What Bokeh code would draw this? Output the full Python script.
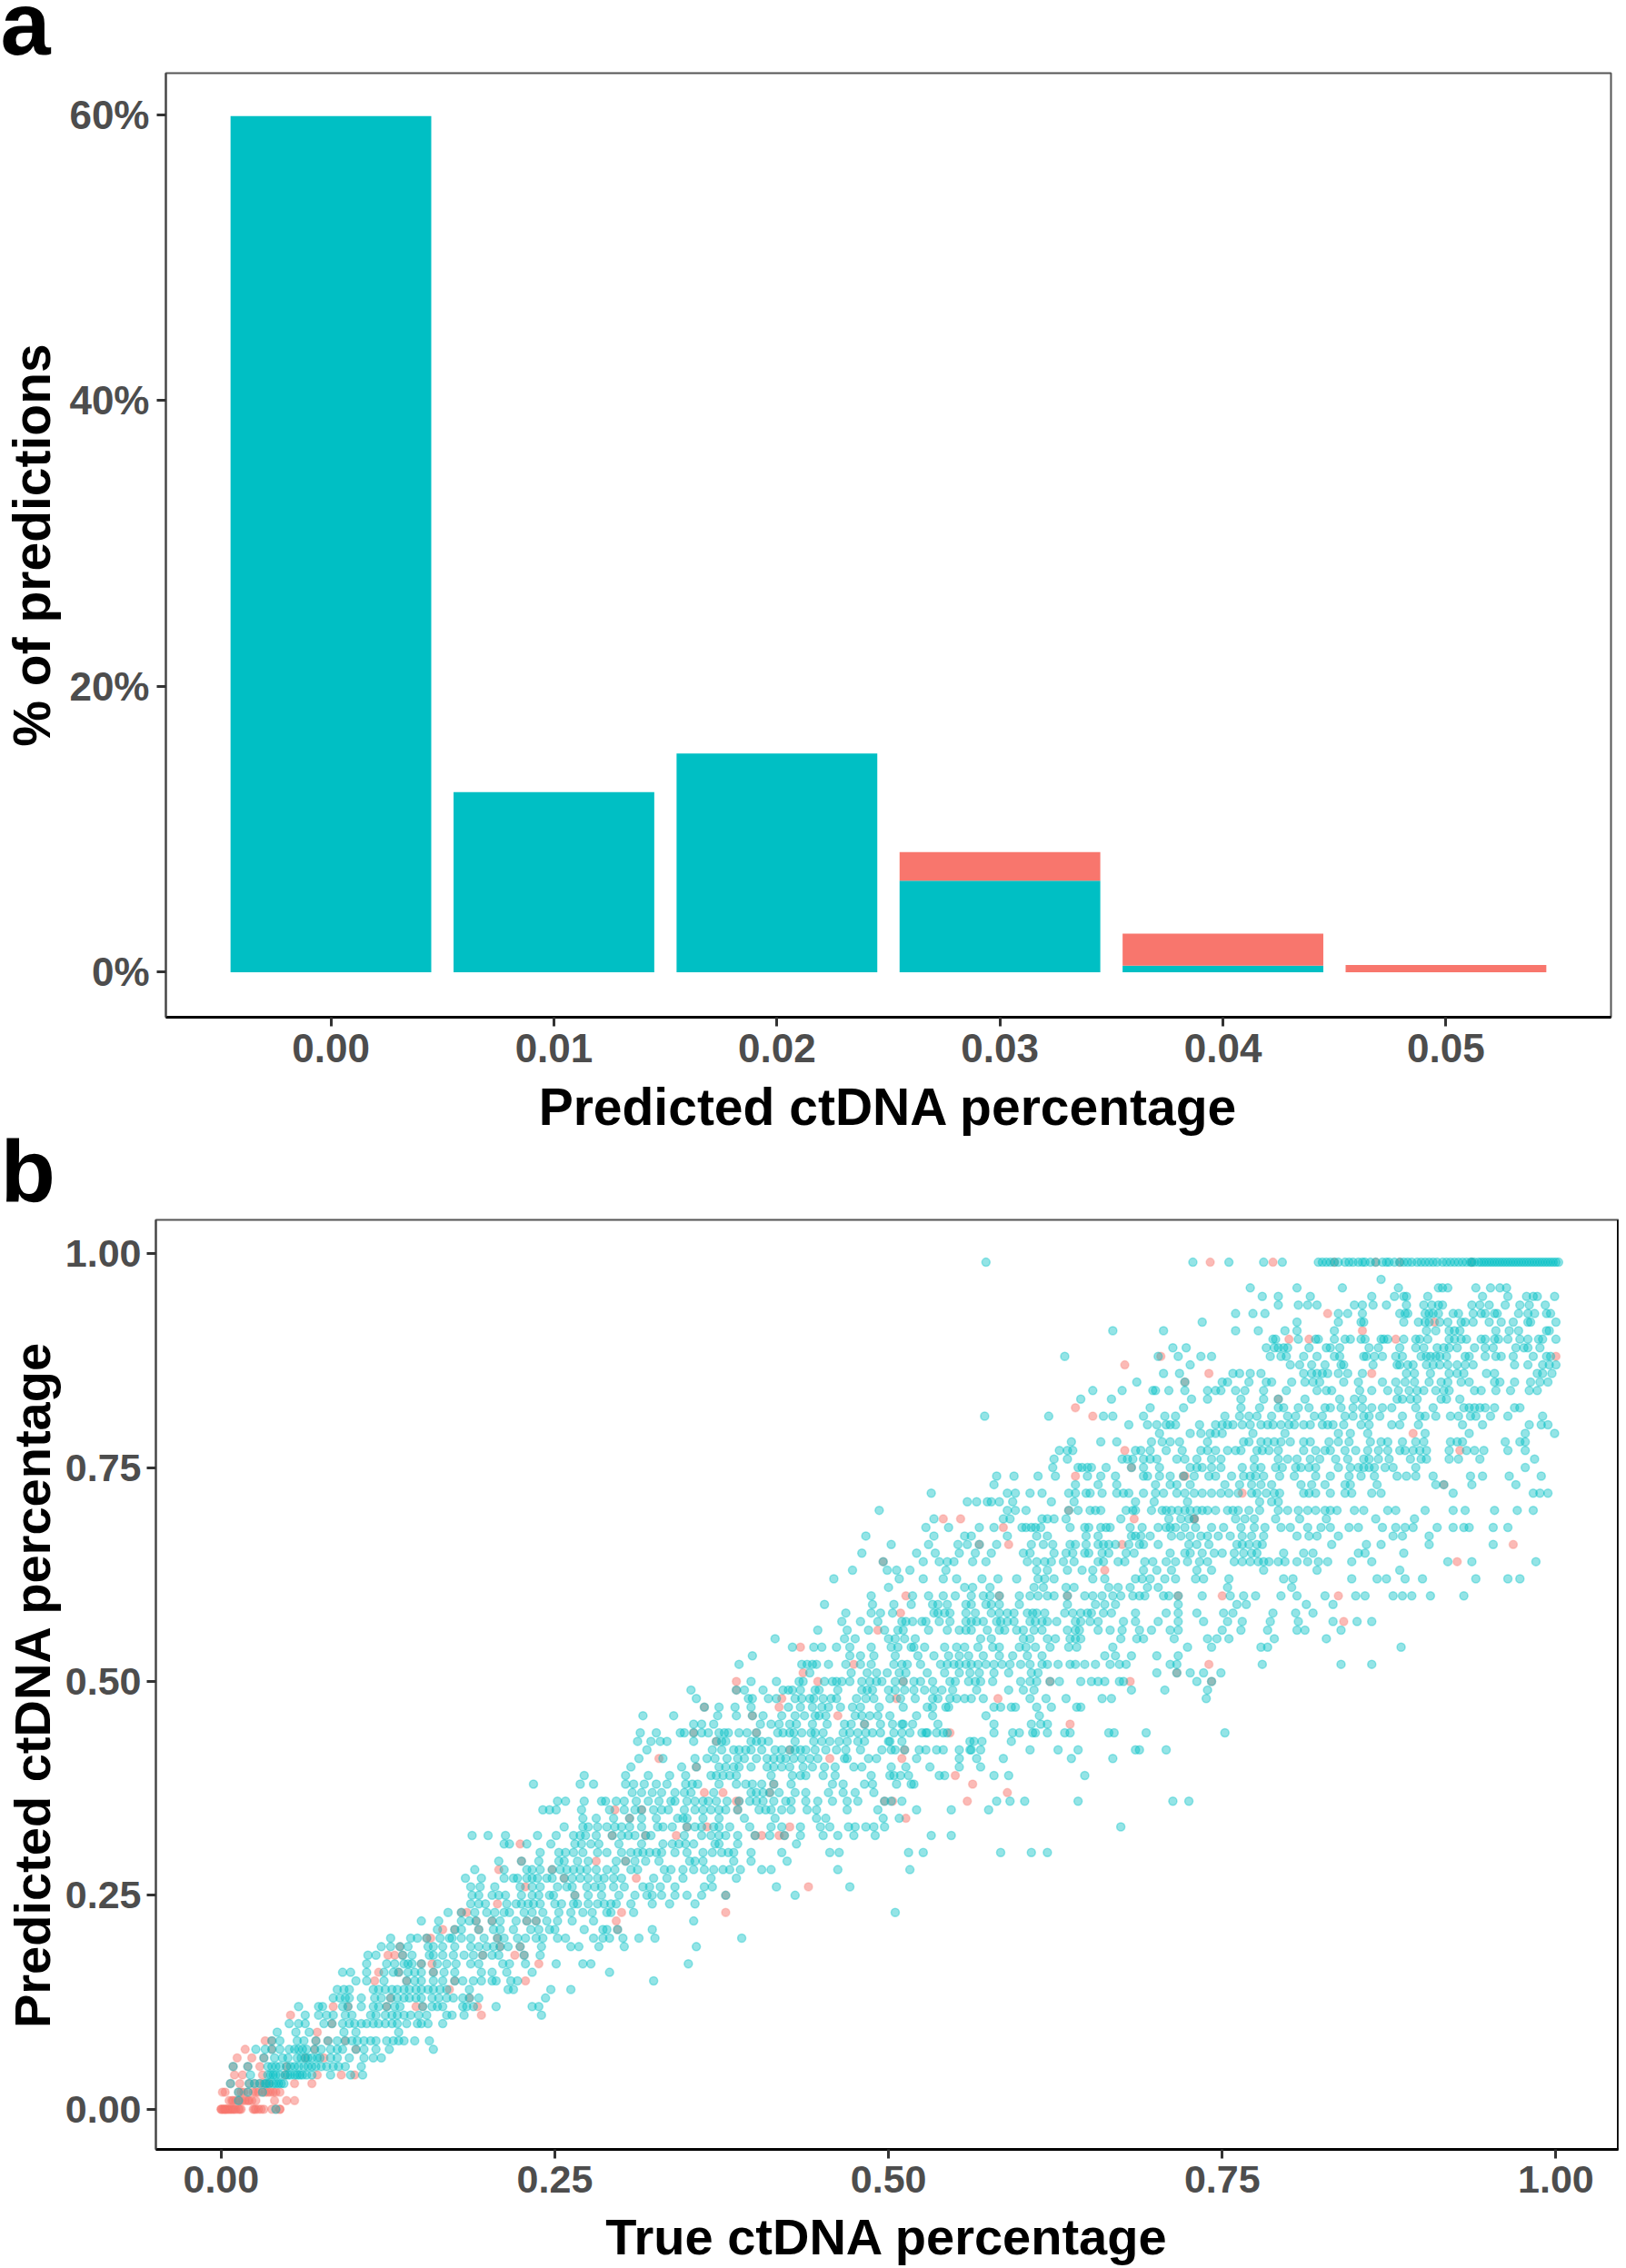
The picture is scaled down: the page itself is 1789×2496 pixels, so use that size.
from bokeh.plotting import figure
from bokeh.layouts import column, row
from bokeh.models import FixedTicker, Span, ColumnDataSource
from bokeh.core.properties import value
from bokeh.embed import file_html
from bokeh.resources import INLINE

# Panel a
bar_centers = [0.00, 0.01, 0.02, 0.03, 0.04, 0.05]
bar_teal = [59.9, 12.6, 15.3, 6.4, 0.45, 0.0]
bar_red = [0.0, 0.0, 0.0, 2.0, 2.25, 0.5]
a_x_ticks = [0.00, 0.01, 0.02, 0.03, 0.04, 0.05]
a_x_labels = ["0.00", "0.01", "0.02", "0.03", "0.04", "0.05"]
a_y_ticks = [0, 20, 40, 60]
a_y_labels = ["0%", "20%", "40%", "60%"]
b_ticks = [0.0, 0.25, 0.5, 0.75, 1.0]
b_labels = ["0.00", "0.25", "0.50", "0.75", "1.00"]

# Panel b: each tNN / rNN holds the true percentage (in thousandths) of the teal / red
# points whose predicted percentage is 0.NN
t99 = [573,728,755,781,795,822,825,828,831,834,837,842,845,848,852,855,857,861,865,870,873,875,879,883,886,889,892,896,899,902,905,908,911,915,918,921,924,927,930,933,936,937,939,942,944,946,948,950,952,954,956,958,960,962,964,966,968,970,972,974,976,978,980,982,984,986,988,990,992,994,996,998,1000,1002]
r99 = [741,788,834,865,883,937]
t97 = [869]
t96 = [771,806,840,882,912,915,919,940,951,958,963]
t95 = [780,792,816,862,879,886,888,904,945,964,978,983,986,999]
t94 = [792,807,814,821,849,855,863,873,888,901,907,912,915,937,943,950,962,973,980,992]
t93 = [760,773,782,837,844,855,883,887,889,902,905,908,912,923,927,938,944,947,954,956,972,979,984,993,996]
r93 = [829]
t92 = [735,806,837,854,856,886,897,902,905,913,919,929,932,938,950,959,968,979,981,1000]
r92 = [909]
t91 = [668,706,760,777,797,806,834,903,910,920,924,928,955,965,972,993,995]
r91 = [855]
t90 = [788,790,807,820,822,834,842,846,854,857,869,871,874,886,895,898,904,920,924,929,933,944,947,954,957,964,973,979,987,990,1000]
r90 = [800,815,880]
t89 = [713,723,783,789,792,796,799,815,828,831,838,860,867,883,895,901,911,916,920,926,939,947,953,970,976,979,988]
t88 = [632,702,717,734,742,786,794,798,811,821,834,838,856,858,864,870,880,885,899,903,906,910,913,918,932,935,947,955,959,968,983,993,996]
r88 = [704,1000]
t87 = [726,801,808,817,827,839,841,863,881,883,889,893,903,908,913,919,926,932,938,969,979,990,995,1000]
r87 = [677]
t86 = [706,718,758,763,766,771,779,811,817,821,825,829,832,837,844,855,858,888,894,906,920,926,931,948,954,986,990,997]
r86 = [740,862]
t85 = [686,722,723,750,754,770,783,787,802,812,818,823,841,852,854,870,873,880,883,887,894,896,905,914,919,922,929,935,938,954,958,969,981,988,994]
r85 = [722]
t84 = [653,675,698,700,710,722,723,739,740,745,746,749,750,760,762,763,767,781,798,801,821,824,828,832,853,862,874,877,882,890,896,901,910,916,920,923,939,944,955,966,980,986]
t83 = [644,667,727,727,739,739,764,764,781,784,792,812,838,840,849,855,881,885,888,891,896,914,918,921,928]
r83 = [792]
t82 = [696,721,721,764,764,778,781,792,796,799,807,815,827,831,839,848,855,862,865,870,877,880,895,908,931,935,939,943,947,954,969,973]
r82 = [640]
t81 = [572,620,661,668,691,707,715,752,752,763,764,770,770,776,776,779,787,790,799,805,819,822,825,842,848,856,860,868,885,898,902,905,910,921,927,936,940,951,964,990]
r81 = [653]
t80 = [680,694,701,708,711,715,733,733,745,745,750,750,754,754,757,758,765,771,772,779,784,788,794,797,800,804,807,811,816,825,829,833,841,854,860,877,880,883,897,930,945,980,989,994]
t79 = [703,726,726,734,734,741,745,745,748,748,750,773,773,797,837,846,859,902,935,977,999]
r79 = [893]
t78 = [637,659,671,697,705,711,718,721,739,739,740,766,770,770,779,784,789,794,801,811,816,830,837,845,847,861,869,874,885,895,901,921,926,930,962,973,977,979]
t77 = [628,634,638,685,689,696,708,720,721,723,734,735,739,739,745,745,754,754,760,763,764,776,780,785,792,811,814,820,827,831,834,842,850,859,867,874,883,887,893,898,903,906,920,923,933,939,946,964,977]
r77 = [677,928]
t76 = [624,634,675,679,683,691,696,701,716,722,731,732,742,742,749,749,774,774,792,799,806,816,823,835,844,856,860,867,875,891,899,903,906,920,927,943,984]
t75 = [623,642,645,649,652,663,682,691,703,726,727,731,731,735,737,742,743,749,749,765,765,774,774,779,790,795,805,809,815,820,837,846,852,856,860,864,872,878,895,977]
r75 = [682]
t74 = [581,594,612,625,649,659,670,691,694,703,711,721,722,729,730,740,741,745,746,757,757,766,767,771,774,775,781,793,796,804,820,831,845,854,857,864,881,888,895,908,936,945,965,967,989]
r74 = [640,721,722]
t73 = [579,640,657,671,700,711,716,726,752,752,763,765,772,772,779,787,809,817,827,842,846,866,910,916,937,970]
r73 = [916]
t72 = [532,589,595,606,615,635,640,648,651,660,671,676,680,691,700,706,716,722,722,729,729,735,737,742,742,749,755,755,762,772,772,776,778,783,789,793,811,815,820,823,831,834,842,847,850,862,869,923,983,988,994]
r72 = [765]
t71 = [559,566,574,577,583,593,622,639,685,699,724,724,778,778,787,792]
t70 = [493,589,595,603,635,642,651,655,659,678,683,685,697,705,708,712,717,722,722,725,726,729,731,732,735,735,739,740,742,745,747,754,754,758,761,762,765,765,770,770,778,781,792,799,807,814,820,827,831,836,849,856,859,874,880,902,923,932,954,971,983]
r70 = [635]
t69 = [534,586,591,615,619,624,633,674,710,719,721,725,725,729,760,761,767,767,774,774,790,808,828,865,894]
r69 = [541,554,684,729,729]
t68 = [528,545,568,579,600,603,607,610,614,636,647,650,659,663,666,681,690,702,708,711,715,722,730,730,742,742,745,751,751,764,764,774,782,794,797,801,814,824,831,845,847,852,870,880,887,893,911,923,931,935,953,964]
r68 = [586]
t67 = [483,534,557,562,589,611,619,648,657,682,685,689,696,712,719,722,726,727,734,735,739,747,748,756,757,765,765,772,775,781,806,815,821,837,878,885,905]
t66 = [502,530,552,559,568,581,607,616,623,636,640,648,657,661,665,670,680,688,691,702,725,725,731,732,740,740,761,762,765,768,770,776,780,832,858,869,905,953]
r66 = [568,590,675,968]
t65 = [480,521,535,553,565,577,601,606,624,633,638,647,650,660,665,678,684,711,722,723,726,729,735,744,745,750,751,759,759,766,767,772,774,776,796,799,811,818,852,857,886]
t64 = [496,526,538,544,549,563,573,604,611,617,622,631,639,657,661,672,677,692,698,708,715,724,725,733,739,739,742,742,759,765,771,772,777,779,781,785,786,792,793,797,806,807,809,814,816,822,829,847,847,862,919,919,937,938,985]
r64 = [496,926]
t63 = [473,499,506,516,543,611,619,634,645,653,691,701,712,731,742,781,821,883]
r63 = [662]
t62 = [459,508,526,541,551,570,582,596,612,617,624,653,662,685,690,696,707,715,730,736,755,758,796,803,847,866,868,873,887,900,940,964,973]
t61 = [500,557,563,576,609,616,633,639,665,672,681,694,702,754,802]
t60 = [487,518,530,541,550,562,571,576,583,598,606,612,619,624,634,647,653,660,668,674,683,688,692,706,710,717,735,756,766,775,794,806,827,850,857,878,885,892,906,931]
r60 = [513,583,634,717,750,837]
t59 = [452,488,504,517,533,537,544,558,562,573,577,583,598,634,655,662,670,717,761,768,813,833]
t58 = [468,487,494,503,534,537,542,546,558,565,577,583,589,594,604,608,611,617,632,638,644,649,652,661,667,685,708,717,731,751,758,788,805,818]
r58 = [509]
t57 = [465,479,492,510,513,518,525,528,538,546,558,562,566,571,581,584,589,594,606,610,615,619,626,640,644,651,657,676,685,702,717,736,754,765,786,807,833,851,853,862]
r57 = [841]
t56 = [447,469,485,497,507,511,530,544,553,558,562,574,583,587,596,601,609,615,634,640,643,657,666,675,688,697,711,717,750,764,784,806,812,839]
r56 = [492]
t55 = [415,467,475,500,505,512,520,569,577,601,606,619,625,636,640,644,674,686,691,714,739,746,755,789,828]
t54 = [428,444,450,461,471,487,502,507,517,519,527,542,551,557,567,578,583,598,603,610,621,635,641,668,724,742,779,781,784,884]
r54 = [434]
t53 = [398,471,479,489,505,522,534,545,553,560,571,583,593,604,615,662,670,682,701,717]
t52 = [388,435,439,443,446,455,468,479,487,504,510,514,524,539,544,549,553,558,562,567,573,579,585,591,599,606,615,619,627,636,640,647,655,666,673,678,711,716,780,839,862]
r52 = [474,740]
t51 = [441,472,484,491,499,508,513,529,542,553,561,568,579,590,607,612,701,716,726,736,749]
r51 = [436,716]
t50 = [397,416,433,436,452,458,461,465,471,480,486,491,495,505,511,519,524,533,546,550,560,565,569,578,599,606,611,621,628,644,652,657,662,673,676,731,742]
r50 = [386,447,511,621,681,742]
t49 = [352,386,392,406,421,425,428,434,445,448,462,480,484,488,500,505,512,519,527,534,540,548,566,590,601,609,682,707,739]
r49 = [386]
t48 = [356,395,398,410,416,430,435,441,444,451,457,461,476,483,489,501,509,520,533,537,546,551,557,562,571,606,618,633,660,667,738]
r48 = [420,506,582]
t47 = [362,373,385,397,425,434,443,450,455,464,473,479,493,511,529,533,543,545,579,584,592,595,611,622,641,644]
r47 = [362,418]
t46 = [316,339,372,386,398,406,420,430,437,445,448,453,475,480,486,492,501,521,533,573,613]
r46 = [398,462]
t45 = [354,360,369,404,412,418,426,431,443,454,467,472,482,494,503,510,511,518,537,579,607,614,619]
r45 = [482,636]
t44 = [314,326,344,347,354,360,365,373,377,380,388,394,401,417,421,426,429,435,442,445,451,466,471,477,483,488,494,504,510,516,525,528,529,536,541,544,579,593,598,608,610,619,632,636,665,669,693,752]
r44 = [354,401,546]
t43 = [312,322,329,334,354,371,375,378,397,401,405,410,430,444,450,456,463,469,477,482,500,501,510,561,564,570,592]
r43 = [371]
t42 = [319,368,375,384,388,393,397,405,415,420,426,430,434,438,445,453,461,468,479,495,502,505,512,523,528,536,541,553,561,562,569,606,627,642,685,688,708]
r42 = [426,512]
t41 = [313,331,355,364,370,379,387,392,401,409,414,419,423,429,435,441,447,467,469,485,491,521,553,566,586,637,668]
r41 = [328,456,510]
t40 = [307,345,356,373,378,384,388,397,409,414,420,426,436,443,452,460,474,480,502,513,531,553,569]
r40 = [356]
t39 = [272,303,320,336,348,367,371,376,381,386,412,428,434,438,451,460,487,501,504,509,515,538,542,579,590,647]
r39 = [550]
t38 = [234,269,279,303,309,317,326,334,348,353,357,373,386,393,398,405,414,427,458,466,482,488,506,517,519]
r38 = [414,563]
t37 = [308,315,323,330,340,347,352,369,397,401,406,411,418,430,438,455,466,475,489]
r37 = [362,376,411,589]
t36 = [252,258,272,285,288,296,302,311,320,328,337,340,349,355,361,365,371,379,388,396,401,406,414,423,427,438,447,458,469,477,497,502,510,581,591,602,642,713,725]
r36 = [386,388,497,503,559]
t35 = [241,246,251,270,291,302,310,315,324,330,335,347,355,361,367,373,378,387,403,408,412,420,427,439,446,469,492,521,547,575]
r35 = [295,315,387]
t34 = [271,281,294,306,315,326,342,346,349,361,373,392,415,446,453,496,508]
r34 = [306,513]
t33 = [257,271,275,282,289,295,300,306,315,327,331,338,349,355,360,369,373,381,396,412,420,434,449,456,470,475,483,489,497,674]
r33 = [349,364,426]
t32 = [188,200,213,237,251,264,269,273,281,293,300,305,310,318,322,347,360,367,373,378,387,400,411,422,434,451,462,474,490,532,547]
r32 = [293,318,341,400,405,418,422]
t31 = [212,216,229,247,265,270,277,283,298,315,331,338,343,348,354,370,373,387,431]
r31 = [224]
t30 = [239,253,258,264,271,282,289,300,307,312,316,321,326,330,340,349,361,368,375,380,384,397,420,456,463,515,526,584,607,619]
t29 = [208,225,238,253,257,267,275,296,303,310,318,328,351,355,361,384,397,424]
r29 = [225,281,303]
t28 = [190,212,229,233,239,248,254,259,264,269,274,281,289,295,307,312,332,337,346,354,362,369,376,381,389,405,412,462,516]
r28 = [208,248]
t27 = [183,195,212,219,222,229,233,237,244,248,257,263,269,275,282,287,294,300,324,334,346,367,386]
r27 = [257,311]
t26 = [187,194,205,224,233,239,252,259,263,274,280,285,294,302,316,321,329,340,362,368,416,471]
r26 = [228,440]
t25 = [188,193,203,208,213,225,233,238,246,249,265,275,285,298,310,319,323,330,340,349,360,378,430]
r25 = [265,378]
t24 = [187,193,198,214,221,225,230,234,239,250,255,264,267,275,282,287,292,296,307,323,336,355]
r24 = [207]
t23 = [170,180,190,199,205,212,216,227,233,241,253,262,271,278,289,292,309,505]
r23 = [180,184,300,378]
t22 = [150,163,180,186,191,203,209,221,229,236,244,252,263,279,354]
r22 = [191,203,229,236,296]
t21 = [162,175,180,193,204,209,219,232,238,246,250,272,286,289,297,323]
r21 = [166,175,193,297]
t20 = [127,142,147,154,164,171,173,180,187,197,207,212,222,228,236,241,252,258,279,286,291,301,313,325,390]
r20 = [154,157,207]
t19 = [120,127,134,140,155,159,166,175,187,193,199,204,209,215,224,240,262,268,283,302,356]
r19 = [134,209,224]
t18 = [110,116,136,143,156,159,166,174,182,189,196,203,208,227,239]
r18 = [125,130,136,196,220,227]
t17 = [109,124,130,137,140,143,150,162,169,176,187,193,211,216,228,251,271,277,350]
r17 = [150,158,238]
t16 = [91,97,109,122,129,133,140,145,150,159,167,175,195,203,214,233,291]
r16 = [118,133,159]
t15 = [101,109,122,139,145,150,159,166,175,181,189,195,203,206,217,222,324]
r15 = [115,139,175,228]
t14 = [87,92,96,114,118,123,128,132,137,141,146,150,155,159,164,169,186,215,219,247,262]
r14 = [171]
t13 = [84,89,93,96,105,115,120,127,132,137,141,146,150,158,163,169,174,181,186,193,243]
r13 = [127,186]
t12 = [58,73,76,91,95,105,114,118,124,130,134,151,158,162,166,181,184,189,206,233,238]
r12 = [84,95,124,146,151,192]
t11 = [63,73,79,84,93,98,112,116,123,128,132,137,142,148,154,169,173,182,240]
r11 = [52,195]
t10 = [51,58,63,77,83,91,96,100,105,109,114,118,123,128,132,139,147,150,155,166]
r10 = [83]
t09 = [42,56,66,92,101,133]
r09 = [72]
t08 = [38,44,57,62,71,80,87,93,98,102,107,112,116,124,129,133,137,145,156]
r08 = [33,38,71,80,93]
t07 = [26,33,38,44,51,55,58,61,64,70,75,82,87,91,101,107,116,126,159]
r07 = [18,38,70,101]
t06 = [32,40,46,50,57,60,63,65,68,72,74,82,87,96,107,114,120]
r06 = [12,23,32,63,77]
t05 = [9,20,35,38,41,44,49,52,55,58,62,65,68,71,75,79,84,88,93,105]
r05 = [9,20,29,49]
t04 = [22,35,37,39,41,44,48,50,52,55,57,59,61,64,68,82,97,106]
r04 = [10,16,31,48,72,90,100]
t03 = [7,21,25,29,33,34,36,39,41,43,45,47]
r03 = [7,14,21,25,29,32,36,55,68]
t02 = [13,20,31]
r02 = [1,3,13,15,17,20,24,26,28,31,33,35,37,39,41,44]
t01 = [13]
r01 = [6,8,9,11,13,14,16,18,20,21,23,26,40,49,55]
t00 = [41]
r00 = [0,0,1,2,3,3,4,5,6,7,8,9,10,11,13,14,15,24,25,26,28,30,32,38,41,44,44]

TEAL = "#00BFC4"
RED = "#F8766D"
FONT = "Liberation Sans"
TICK_GREY = "#4D4D4D"


def collect(prefix):
    """Flatten the rows. Values in the zone read twice from overlapping crops are merged."""
    xs, ys = [], []
    for name, rowvals in list(globals().items()):
        if len(name) == 3 and name[0] == prefix and name[1:].isdigit():
            level = int(name[1:])
            kept = []
            for v in sorted(rowvals):
                if kept and prefix == "t" and level <= 86 and v >= 718 and v - kept[-1] <= 3:
                    continue
                kept.append(v)
            xs += [v / 1000 for v in kept]
            ys += [level / 100] * len(kept)
    return xs, ys


def style(p, xlabel, ylabel, tick_px, label_px):
    p.grid.visible = False
    p.background_fill_color = "white"
    p.border_fill_color = "white"
    p.outline_line_color = "#555555"
    p.outline_line_width = 2
    for ax, lab in ((p.xaxis[0], xlabel), (p.yaxis[0], ylabel)):
        ax.axis_label = lab
        ax.axis_label_text_font = FONT
        ax.axis_label_text_font_style = "bold"
        ax.axis_label_text_font_size = label_px
        ax.axis_label_text_color = "black"
        ax.major_label_text_font = FONT
        ax.major_label_text_font_style = "bold"
        ax.major_label_text_font_size = tick_px
        ax.major_label_text_color = TICK_GREY
        ax.major_tick_line_color = "#333333"
        ax.major_tick_line_width = 3
        ax.major_tick_in = 0
        ax.major_tick_out = 10
        ax.minor_tick_line_color = None
        ax.major_label_standoff = 8
    p.xaxis[0].axis_line_color = "black"
    p.xaxis[0].axis_line_width = 3
    p.yaxis[0].axis_line_color = "#444444"
    p.yaxis[0].axis_line_width = 2


def letter(text, h, y_frac):
    f = figure(width=120, height=h, x_range=(0, 1), y_range=(0, 1), output_backend="svg",
               toolbar_location=None, x_axis_location=None, y_axis_location=None,
               min_border_left=0, min_border_right=0, min_border_top=0, min_border_bottom=0)
    f.grid.visible = False
    f.outline_line_color = None
    f.text(x=[0], y=[y_frac], text=[text], text_font=value(FONT), text_font_style="bold",
           text_font_size="99px", text_color="black", text_baseline="alphabetic")
    return f


# ---- panel a ----
a_xr = (-0.0074, 0.0574)
a_yr = (-3.15, 62.9)
pa = figure(width=1781, height=1174, x_range=a_xr, y_range=a_yr,
            output_backend="svg", toolbar_location=None,
            min_border_left=177, min_border_right=9, min_border_top=2, min_border_bottom=128)
style(pa, "Predicted ctDNA percentage", "% of predictions", "44px", "57px")
src = ColumnDataSource(dict(x=bar_centers, teal=bar_teal,
                            top=[a + b for a, b in zip(bar_teal, bar_red)]))
pa.vbar(x="x", bottom=0, top="teal", width=0.009, fill_color=TEAL, line_color=None, source=src)
pa.vbar(x="x", bottom="teal", top="top", width=0.009, fill_color=RED, line_color=None, source=src)
pa.xaxis[0].ticker = FixedTicker(ticks=a_x_ticks)
pa.xaxis[0].major_label_overrides = dict(zip(a_x_ticks, a_x_labels))
pa.yaxis[0].ticker = FixedTicker(ticks=a_y_ticks)
pa.yaxis[0].major_label_overrides = dict(zip(a_y_ticks, a_y_labels))
pa.xaxis[0].axis_label_standoff = 14
pa.yaxis[0].axis_label_standoff = 6

# ---- panel b ----
b_xr = (-0.0489, 1.0467)
b_yr = (-0.047, 1.0395)
pb = figure(width=1781, height=1155, x_range=b_xr, y_range=b_yr,
            output_backend="svg", toolbar_location=None,
            min_border_left=170, min_border_right=1, min_border_top=2, min_border_bottom=124)
style(pb, "True ctDNA percentage", "Predicted ctDNA percentage", "43px", "56px")
rx, ry = collect("r")
tx, ty = collect("t")
red_src = ColumnDataSource(dict(x=rx, y=ry))
teal_src = ColumnDataSource(dict(x=tx, y=ty))
pb.scatter("x", "y", source=red_src, size=9, fill_color=RED, fill_alpha=0.5, line_color=RED, line_alpha=0.3, line_width=1.5)
pb.scatter("x", "y", source=teal_src, size=9, fill_color=TEAL, fill_alpha=0.42, line_color=TEAL, line_alpha=0.38, line_width=1.5)
pb.xaxis[0].ticker = FixedTicker(ticks=b_ticks)
pb.xaxis[0].major_label_overrides = dict(zip(b_ticks, b_labels))
pb.yaxis[0].ticker = FixedTicker(ticks=b_ticks)
pb.yaxis[0].major_label_overrides = dict(zip(b_ticks, b_labels))
pb.yaxis[0].major_label_standoff = 6
pb.xaxis[0].axis_label_standoff = 14
pb.yaxis[0].axis_label_standoff = 2
pb.add_layout(Span(location=b_xr[1], dimension="height", line_color="black", line_width=3))

layout = column(row(letter("a", 78, 0.68)), row(pa), row(letter("b", 88, 0.602)), row(pb), spacing=0)
open("out.html", "w").write(file_html(layout, INLINE))
